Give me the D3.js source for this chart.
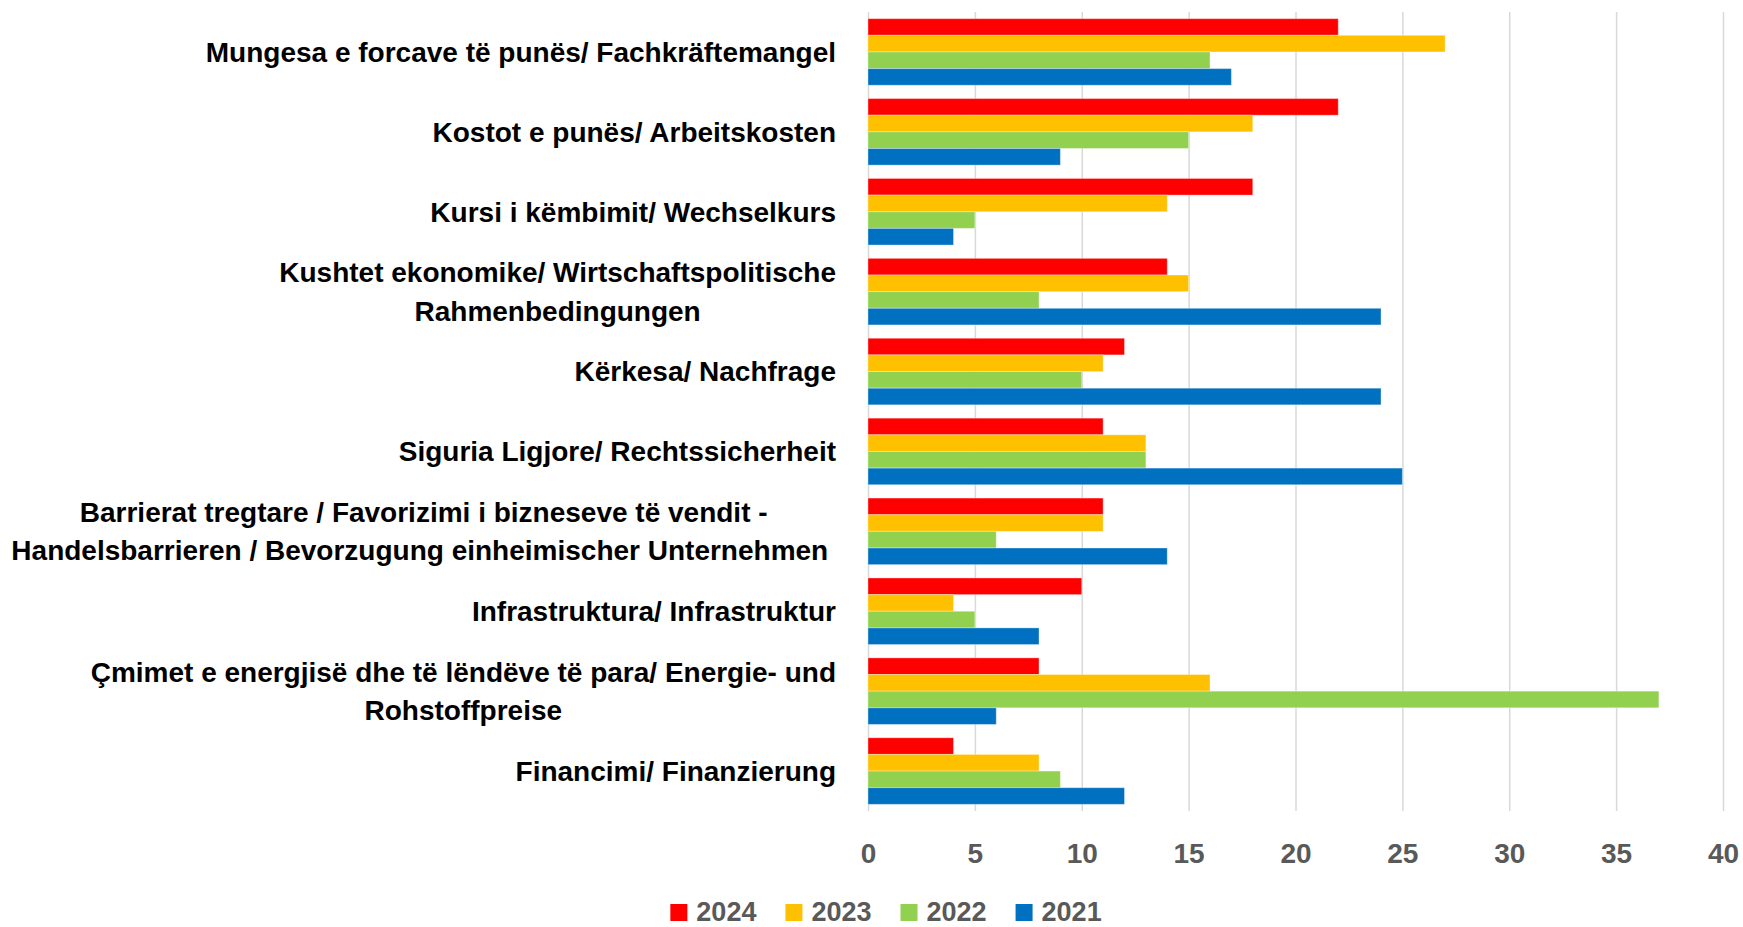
<!DOCTYPE html>
<html>
<head>
<meta charset="utf-8">
<script src="https://cdn.jsdelivr.net/npm/d3@7"></script>
<style>
  html, body { margin: 0; padding: 0; background: #fff; }
  svg { display: block; font-family: "Liberation Sans", Arial, sans-serif; }
</style>
</head>
<body>
<svg id="chart" width="1743" height="927"></svg>
<script>
// categories, top to bottom (\n = line break as in the original labels)
const categories = [
  "Mungesa e forcave të punës/ Fachkräftemangel",
  "Kostot e punës/ Arbeitskosten",
  "Kursi i këmbimit/ Wechselkurs",
  "Kushtet ekonomike/ Wirtschaftspolitische\nRahmenbedingungen",
  "Kërkesa/ Nachfrage",
  "Siguria Ligjore/ Rechtssicherheit",
  "Barrierat tregtare / Favorizimi i bizneseve të vendit -\nHandelsbarrieren / Bevorzugung einheimischer Unternehmen ",
  "Infrastruktura/ Infrastruktur",
  "Çmimet e energjisë dhe të lëndëve të para/ Energie- und\nRohstoffpreise",
  "Financimi/ Finanzierung"
];
const years = ["2024", "2023", "2022", "2021"];
const values2024 = [22, 22, 18, 14, 12, 11, 11, 10, 8, 4];
const values2023 = [27, 18, 14, 15, 11, 13, 11, 4, 16, 8];
const values2022 = [16, 15, 5, 8, 10, 13, 6, 5, 37, 9];
const values2021 = [17, 9, 4, 24, 24, 25, 14, 8, 6, 12];
const xTicks = [0, 5, 10, 15, 20, 25, 30, 35, 40];
const colors = ["#FF0000", "#FFC000", "#92D050", "#0070C0"];

const series = [values2024, values2023, values2022, values2021];

//layout
const plot = {left: 868, right: 1723, top: 12, bottom: 811};
const labelRight = 836;
const svg = d3.select("#chart");

let x = d3.scaleLinear().domain([0, 40]).range([plot.left, plot.right]);
let y = d3.scaleBand().domain(categories).range([plot.top, plot.bottom])
  .paddingInner(0.1667).paddingOuter(0.0833);
let ySub = d3.scaleBand().domain(years).range([0, y.bandwidth()]);

//gridlines
svg.append("g")
  .attr("transform", "translate(0," + plot.bottom + ")")
  .call(d3.axisBottom(x).tickValues(xTicks).tickSize(-(plot.bottom - plot.top)).tickFormat(""))
  .call(g => g.select(".domain").remove())
  .call(g => g.selectAll("line").attr("stroke", "#D9D9D9").attr("stroke-width", 1.5));

//bars
let rows = [];
categories.forEach(function(c, i) {
  years.forEach(function(yr, j) {
    rows.push({cat: c, year: yr, value: series[j][i], color: colors[j]});
  });
});

svg.append("g").selectAll("rect")
  .data(rows)
  .enter()
  .append("rect")
    .attr("x", x(0))
    .attr("y", d => y(d.cat) + ySub(d.year))
    .attr("width", d => x(d.value) - x(0))
    .attr("height", ySub.bandwidth())
    .attr("fill", d => d.color)
    .attr("stroke", "rgba(255,255,255,0.35)")
    .attr("stroke-width", 1);

//x axis labels
svg.append("g")
  .attr("transform", "translate(0," + plot.bottom + ")")
  .call(d3.axisBottom(x).tickValues(xTicks).tickSize(0))
  .call(g => g.select(".domain").remove())
  .call(g => g.selectAll("text")
    .attr("dy", null)
    .attr("y", 52)
    .attr("fill", "#595959")
    .style("font-size", "28px")
    .style("font-weight", "bold")
    .style("font-family", "'Liberation Sans', Arial, sans-serif"));

//category labels (block right aligned, lines centred)
const lineGap = 38.3;
let labels = svg.append("g").attr("class", "cat-labels");
categories.forEach(function(c) {
  let lines = c.split("\n");
  let cy = y(c) + y.bandwidth() / 2;
  let g = labels.append("g");
  let texts = lines.map(function(l, k) {
    return g.append("text")
      .text(l)
      .style("white-space", "pre")
      .style("font-size", "28px")
      .style("font-weight", "bold")
      .attr("fill", "#000")
      .attr("text-anchor", "middle")
      .attr("y", cy + 9.9 + (k - (lines.length - 1) / 2) * lineGap);
  });
  let blockW = d3.max(texts, t => t.node().getComputedTextLength());
  texts.forEach(t => t.attr("x", labelRight - blockW / 2));
});

//legend
let legend = svg.append("g");
let lx = 0;
years.forEach(function(yr, j) {
  let item = legend.append("g").attr("transform", "translate(" + lx + ",0)");
  item.append("rect")
    .attr("x", 0).attr("y", 904)
    .attr("width", 17).attr("height", 17)
    .attr("fill", colors[j]);
  let t = item.append("text")
    .text(yr)
    .attr("x", 26).attr("y", 921)
    .attr("fill", "#595959")
    .style("font-size", "27px")
    .style("font-weight", "bold");
  lx += 26 + t.node().getComputedTextLength() + 29;
});
let legendW = lx - 29;
legend.attr("transform", "translate(" + (886 - legendW / 2) + ",0)");
</script>
</body>
</html>
